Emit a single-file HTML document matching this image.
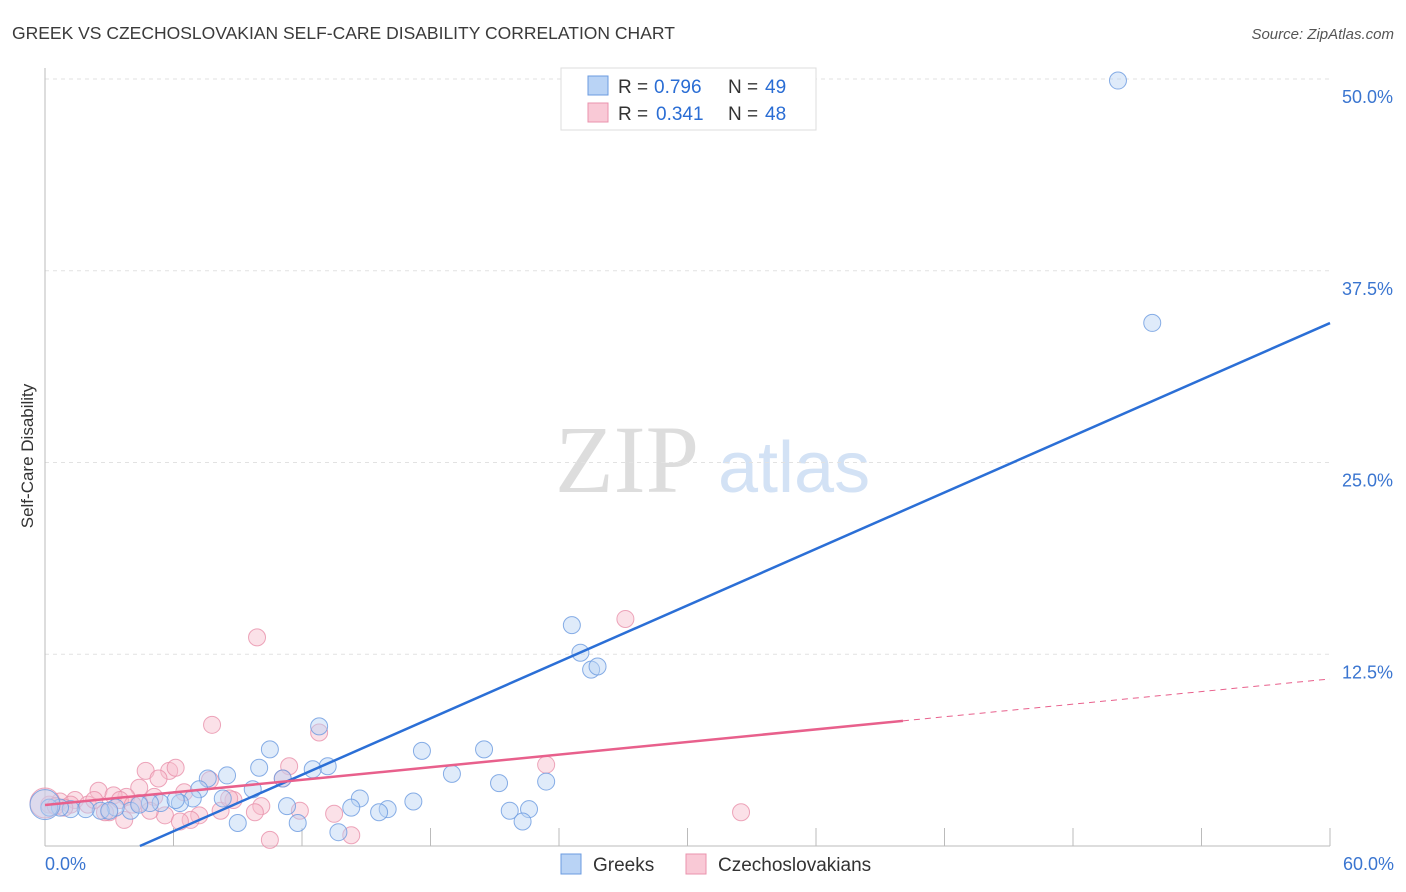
<!DOCTYPE html>
<html><head><meta charset="utf-8"><style>
body{margin:0;background:#fff;font-family:"Liberation Sans",sans-serif}
svg{display:block}
</style></head><body>
<svg id="chart" width="1406" height="892" viewBox="0 0 1406 892">
<text x="12" y="39" font-size="17.5" fill="#3a3a3a">GREEK VS CZECHOSLOVAKIAN SELF-CARE DISABILITY CORRELATION CHART</text>
<text x="1394" y="39" font-size="15" fill="#555" text-anchor="end" font-style="italic">Source: ZipAtlas.com</text>
<text transform="translate(33,456) rotate(-90)" font-size="17" fill="#333" text-anchor="middle">Self-Care Disability</text>
<text x="555" y="492" font-size="96" fill="#ddd" font-family="Liberation Serif,serif">ZIP</text>
<text x="718" y="492" font-size="72" fill="#d3e2f5">atlas</text>
<g id="grid"></g><g id="pts"></g><g id="lines"></g>
<g>
<rect x="561" y="68" width="255" height="62" fill="#fff" stroke="#ddd"/>
<rect x="588" y="76" width="20" height="19" fill="#b9d3f5" stroke="#6b9be0"/>
<text x="618" y="93" font-size="19" fill="#333">R =</text><text x="654" y="93" font-size="19" fill="#2a6dd4">0.796</text>
<text x="728" y="93" font-size="19" fill="#333">N =</text><text x="765" y="93" font-size="19" fill="#2a6dd4">49</text>
<rect x="588" y="103" width="20" height="19" fill="#f9c9d6" stroke="#ea93ad"/>
<text x="618" y="120" font-size="19" fill="#333">R =</text><text x="656" y="120" font-size="19" fill="#2a6dd4">0.341</text>
<text x="728" y="120" font-size="19" fill="#333">N =</text><text x="765" y="120" font-size="19" fill="#2a6dd4">48</text>
</g>
<g>
<rect x="561" y="854" width="20" height="20" fill="#b9d3f5" stroke="#6b9be0"/>
<text x="593" y="871" font-size="19" fill="#333">Greeks</text>
<rect x="686" y="854" width="20" height="20" fill="#f9c9d6" stroke="#ea93ad"/>
<text x="718" y="871" font-size="19" fill="#333">Czechoslovakians</text>
</g>
</svg>
<script>
const yTicks=[12.5,25,37.5,50];
const yTickLabels=["12.5%","25.0%","37.5%","50.0%"];
const xTickLabels=["0.0%","60.0%"];
const greekX=[50.1,51.7,24.6,25.0,25.5,25.8,20.5,17.6,12.8,10.5,13.2,12.5,10.0,8.5,7.6,11.1,7.2,9.7,8.3,6.9,6.3,5.4,4.9,4.0,3.3,2.6,1.9,1.2,0.7,0.2,0.0,19.0,21.2,23.4,17.2,14.7,14.3,16.0,15.6,21.7,22.6,22.3,11.8,11.3,9.0,13.7,6.1,4.4,3.0];
const greekY=[49.9,34.1,14.4,12.6,11.5,11.7,6.3,6.2,7.8,6.3,5.2,5.0,5.1,4.6,4.4,4.4,3.7,3.7,3.1,3.1,2.8,2.8,2.8,2.3,2.5,2.3,2.4,2.4,2.5,2.5,2.7,4.7,4.1,4.2,2.9,3.1,2.5,2.4,2.2,2.3,2.4,1.6,1.5,2.6,1.5,0.9,3.0,2.7,2.3];
const czechX=[27.1,9.9,7.8,12.8,23.4,5.8,4.7,6.1,11.4,5.3,11.1,4.4,2.5,7.7,8.8,10.1,3.8,3.2,1.4,0.7,0.2,2.0,5.1,6.5,7.2,6.8,9.8,11.9,13.5,32.5,14.3,10.5,3.7,3.0,2.8,1.2,0.0,0.5,5.6,8.2,6.3,4.4,2.3,3.5,4.1,8.6,4.9,0.9];
const czechY=[14.8,13.6,7.9,7.4,5.3,4.9,4.9,5.1,5.2,4.4,4.4,3.8,3.6,4.3,3.0,2.6,3.2,3.3,3.0,2.9,2.7,2.7,3.2,3.5,2.0,1.7,2.2,2.3,2.1,2.2,0.7,0.4,1.7,2.2,2.2,2.7,2.8,2.6,2.0,2.3,1.6,2.8,3.0,3.0,2.7,3.1,2.3,2.5];
const trendX=[0,60];
const greekTrend=[-2.72,34.09];
const czechTrend=[2.67,10.89];
const czechSolidEnd=40.06;
const NS="http://www.w3.org/2000/svg";
const X=v=>45+v/60*1285, Y=v=>846-v/50*767;
function mk(t,a,p){const e=document.createElementNS(NS,t);for(const k in a)e.setAttribute(k,a[k]);p.appendChild(e);return e;}
const grid=document.getElementById('grid');
yTicks.forEach((t,i)=>{
 const l=mk('line',{x1:45,x2:1330,y1:Y(t),y2:Y(t),stroke:'#e2e2e2','stroke-dasharray':'4,4'},grid);
 
 
 const tx=mk('text',{x:1393,y:Y(t)+24,'font-size':18,fill:'#3a75d0','text-anchor':'end'},grid);
 tx.textContent=yTickLabels[i];
 
 
});
mk('line',{x1:45,x2:45,y1:68,y2:846,stroke:'#bbb'},grid);
mk('line',{x1:45,x2:1330,y1:846,y2:846,stroke:'#bbb'},grid);
for(let i=1;i<=10;i++){const x=X(i*6);mk('line',{x1:x,x2:x,y1:828,y2:846,stroke:'#bbb'},grid);}
[[0,'start',45],[60,'end',1394]].forEach((d,i)=>{
 const tx=mk('text',{x:d[2],y:870,'font-size':18,fill:'#3a75d0','text-anchor':d[1]},grid);
 tx.textContent=xTickLabels[i];
 
 
});
const pts=document.getElementById('pts');
function draw(xs,ys,fill,stroke,name){xs.forEach((x,i)=>{
 const c=mk('circle',{cx:X(x),cy:Y(ys[i]),r:(x===0?15:8.5),fill:fill,stroke:stroke,'stroke-width':1,'fill-opacity':0.45,'stroke-opacity':0.8},pts);
 
 
});}
draw(czechX,czechY,'#f7bccc','#e890aa','czech-point');
draw(greekX,greekY,'#b9d3f5','#6a9ae0','greek-point');
const lines=document.getElementById('lines');
const gy=x=>greekTrend[0]+(greekTrend[1]-greekTrend[0])*(x-trendX[0])/(trendX[1]-trendX[0]);
const cy=x=>czechTrend[0]+(czechTrend[1]-czechTrend[0])*(x-trendX[0])/(trendX[1]-trendX[0]);
const x0=-greekTrend[0]/(greekTrend[1]-greekTrend[0])*60;
const gl=mk('line',{x1:X(x0),y1:Y(0),x2:X(60),y2:Y(gy(60)),stroke:'#2b6fd6','stroke-width':2.5},lines);


const cl=mk('line',{x1:X(0),y1:Y(cy(0)),x2:X(czechSolidEnd),y2:Y(cy(czechSolidEnd)),stroke:'#e8608c','stroke-width':2.5},lines);


const cd=mk('line',{x1:X(czechSolidEnd),y1:Y(cy(czechSolidEnd)),x2:X(60),y2:Y(cy(60)),stroke:'#e8608c','stroke-width':1,'stroke-dasharray':'6,5'},lines);


</script>
</body></html>
